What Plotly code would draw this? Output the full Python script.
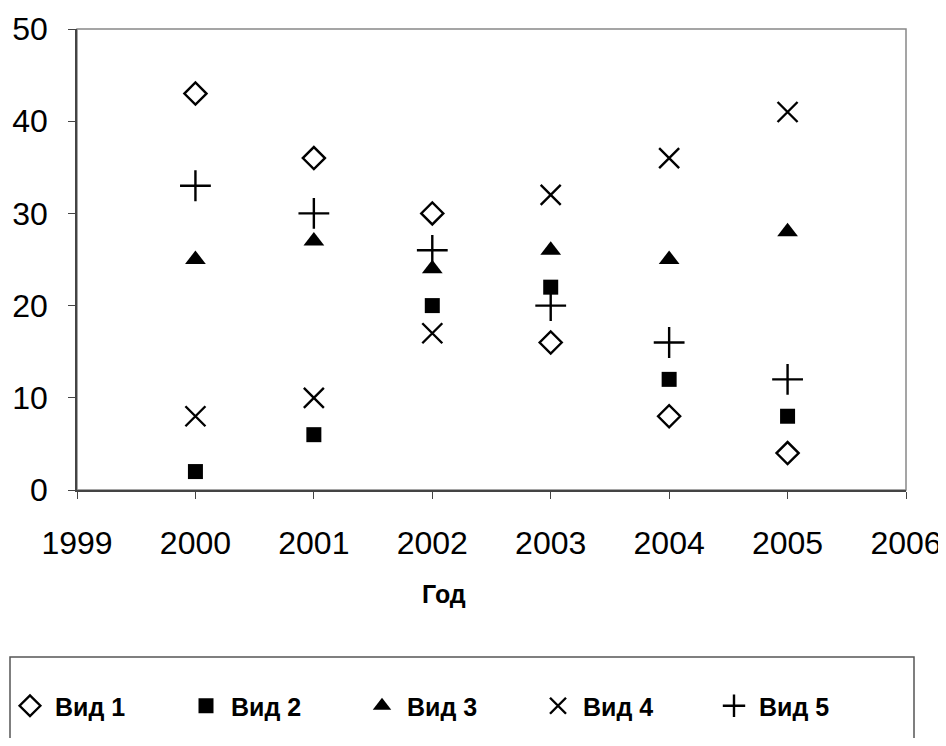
import plotly.graph_objects as go

years = [2000, 2001, 2002, 2003, 2004, 2005]
vid1 = [43, 36, 30, 16, 8, 4]
vid2 = [2, 6, 20, 22, 12, 8]
vid3 = [25, 27, 24, 26, 25, 28]
vid4 = [8, 10, 17, 32, 36, 41]
vid5 = [33, 30, 26, 20, 16, 12]
names = ["Вид 1", "Вид 2", "Вид 3", "Вид 4", "Вид 5"]
x_ticks = [1999, 2000, 2001, 2002, 2003, 2004, 2005, 2006]
y_ticks = [0, 10, 20, 30, 40, 50]

series = [vid1, vid2, vid3, vid4, vid5]
styles = [
    dict(symbol="diamond-open", size=17, line=dict(width=2.4, color="black"), color="black"),
    dict(symbol="square", size=15, color="black", line=dict(width=0)),
    dict(symbol="triangle-up", size=18, color="black", line=dict(width=0)),
    dict(symbol="x-thin-open", size=20, line=dict(width=2.4, color="black"), color="black"),
    dict(symbol="cross-thin-open", size=22, line=dict(width=2.4, color="black"), color="black"),
]

fig = go.Figure()
for name, vals, st in zip(names, series, styles):
    fig.add_trace(go.Scatter(x=years, y=vals, mode="markers", name=name, marker=st))

# page has an 8px body margin; work in reference pixels shifted by OFF
OFF = 8
W, H = 946 - OFF, 746 - 2 * OFF
L = 77 - OFF
T = 29 - OFF
R = W - (906 - OFF)
B = H - (490 - OFF)
pw = W - L - R
ph = H - T - B

def px_x(p):
    return (p - OFF - L) / pw

def px_y(p):
    return (H - B - (p - OFF)) / ph

fig.update_layout(
    width=W, height=H,
    margin=dict(l=L, r=R, t=T, b=B, autoexpand=False),
    paper_bgcolor="white", plot_bgcolor="white",
    font=dict(family="Liberation Sans, Arial, sans-serif", color="black"),
    xaxis=dict(range=[1999, 2006], tickvals=x_ticks, ticktext=[str(v) for v in x_ticks],
               showgrid=False, zeroline=False, showline=True, linecolor="#444", linewidth=1.5,
               ticks="outside", ticklen=7, tickcolor="#444", tickfont=dict(size=32),
               ticklabelstandoff=17, automargin=False),
    yaxis=dict(range=[0, 50], tickvals=y_ticks, showgrid=False, zeroline=False, showline=True,
               linecolor="#444", linewidth=1.5, ticks="outside", ticklen=7, tickcolor="#444",
               tickfont=dict(size=32), ticklabelstandoff=14, automargin=False),
    showlegend=True,
    legend=dict(orientation="h", x=px_x(5), y=px_y(706), xanchor="left", yanchor="middle",
                entrywidth=121, entrywidthmode="pixels", itemwidth=40,
                font=dict(size=25, family="Liberation Sans, Arial, sans-serif", weight="bold"),
                bgcolor="rgba(0,0,0,0)"),
)

# plot-area border on top and right
fig.add_shape(type="rect", xref="paper", yref="paper", x0=0, x1=1, y0=0, y1=1,
              line=dict(color="#888", width=1.5), layer="below")
# legend frame (bottom edge runs off the picture, as in the reference)
fig.add_shape(type="rect", xref="paper", yref="paper", x0=px_x(10), x1=px_x(914),
              y0=px_y(760), y1=px_y(657), line=dict(color="#555", width=1.5))

fig.add_annotation(text="<b>Год</b>", xref="paper", yref="paper", x=px_x(444), y=px_y(594),
                   showarrow=False, font=dict(size=25), xanchor="center", yanchor="middle")

fig.write_html("out.html")
